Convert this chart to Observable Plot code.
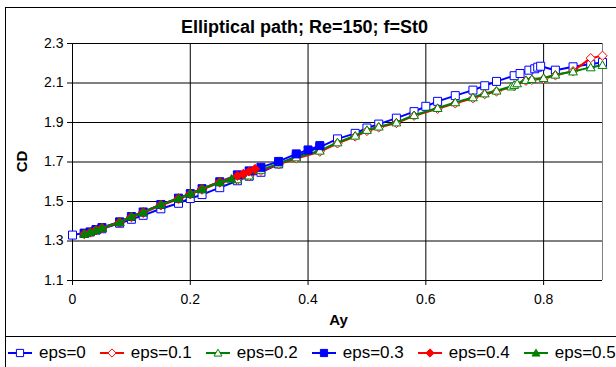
<!DOCTYPE html>
<html><head><meta charset="utf-8">
<script src="https://cdn.jsdelivr.net/npm/d3@7"></script>
<script src="https://cdn.jsdelivr.net/npm/@observablehq/plot@0.6"></script>
<style>
html,body{margin:0;padding:0;background:#fff;}
#wrap{position:relative;width:616px;height:367px;overflow:hidden;background:#fff;font-family:"Liberation Sans",Arial,sans-serif;}
#wrap svg.plot{position:absolute;left:0;top:0;}
.bl{position:absolute;background:#000;}
#legend{position:absolute;left:8px;top:337px;height:32px;display:flex;align-items:center;white-space:nowrap;font-size:17px;color:#000;}
#legend .it{display:flex;align-items:center;margin-right:14px;}
#legend .it span{margin-left:7px;}
</style></head>
<body><div id="wrap"></div>
<script>
// ---- data ----
const seriesNames = ["eps=0","eps=0.1","eps=0.2","eps=0.3","eps=0.4","eps=0.5"];
const ay0 = [0,0.02,0.04,0.05,0.08,0.10,0.12,0.15,0.18,0.20,0.22,0.25,0.28,0.30,0.32,0.35,0.38,0.42,0.45,0.48,0.50,0.52,0.55,0.58,0.60,0.62,0.65,0.68,0.70,0.72,0.75,0.76,0.775,0.785,0.79,0.795,0.82,0.85,0.88,0.90];
const cd0 = [1.330,1.340,1.355,1.362,1.390,1.410,1.430,1.463,1.491,1.515,1.535,1.570,1.605,1.628,1.648,1.690,1.728,1.775,1.817,1.845,1.872,1.892,1.922,1.955,1.982,2.007,2.036,2.064,2.086,2.108,2.137,2.148,2.165,2.172,2.180,2.185,2.165,2.182,2.196,2.204];
const ay1 = [0.02,0.03,0.04,0.05,0.08,0.10,0.12,0.15,0.18,0.20,0.22,0.25,0.28,0.30,0.32,0.35,0.38,0.42,0.45,0.48,0.50,0.52,0.55,0.58,0.62,0.65,0.68,0.70,0.72,0.75,0.77,0.78,0.80,0.82,0.85,0.88,0.90];
const cd1 = [1.335,1.343,1.354,1.364,1.392,1.420,1.442,1.480,1.512,1.536,1.560,1.596,1.610,1.628,1.655,1.688,1.718,1.752,1.794,1.829,1.857,1.875,1.897,1.934,1.969,1.997,2.023,2.043,2.057,2.085,2.111,2.116,2.121,2.139,2.160,2.226,2.238];
const ay2 = [0.02,0.03,0.04,0.05,0.08,0.10,0.12,0.15,0.18,0.20,0.22,0.25,0.28,0.30,0.32,0.35,0.38,0.42,0.45,0.48,0.50,0.52,0.55,0.58,0.62,0.65,0.68,0.70,0.72,0.745,0.75,0.755,0.77,0.78,0.80,0.82,0.85,0.88,0.90];
const cd2 = [1.337,1.345,1.356,1.366,1.395,1.423,1.445,1.483,1.515,1.538,1.562,1.598,1.612,1.631,1.660,1.692,1.723,1.757,1.799,1.833,1.862,1.879,1.900,1.937,1.973,2.002,2.027,2.047,2.061,2.082,2.090,2.098,2.115,2.120,2.125,2.142,2.158,2.179,2.191];
const ay3 = [0.02,0.03,0.04,0.05,0.08,0.10,0.12,0.15,0.18,0.20,0.22,0.25,0.28,0.30,0.32,0.35,0.38,0.40,0.42];
const cd3 = [1.338,1.346,1.358,1.368,1.397,1.424,1.447,1.485,1.517,1.540,1.565,1.600,1.635,1.655,1.673,1.703,1.741,1.761,1.783];
const ay4 = [0.02,0.03,0.04,0.05,0.08,0.10,0.12,0.15,0.18,0.20,0.22,0.25,0.28,0.29,0.30,0.31];
const cd4 = [1.336,1.344,1.356,1.366,1.396,1.423,1.446,1.484,1.516,1.539,1.564,1.600,1.630,1.640,1.652,1.665];
const ay5 = [0.02,0.03,0.04,0.05,0.08,0.10,0.12,0.15,0.18,0.20,0.22,0.25,0.27];
const cd5 = [1.336,1.344,1.356,1.366,1.395,1.424,1.445,1.484,1.516,1.540,1.563,1.598,1.615];
const xTicks = [0,0.2,0.4,0.6,0.8];
const yTicks = [1.1,1.3,1.5,1.7,1.9,2.1,2.3];
const titleText = "Elliptical path; Re=150; f=St0";
const xLabel = "Ay", yLabel = "CD";

// ---- symbols ----
const rOf = s => Math.sqrt(s/Math.PI);
const sqSym = {draw(c,s){const r=rOf(s);c.moveTo(-r,-r);c.lineTo(r,-r);c.lineTo(r,r);c.lineTo(-r,r);c.closePath();}};
const diaSym = {draw(c,s){const r=rOf(s)*1.15;c.moveTo(0,-r);c.lineTo(r,0);c.lineTo(0,r);c.lineTo(-r,0);c.closePath();}};
const triSym = {draw(c,s){const r=rOf(s);c.moveTo(0,-r*1.05);c.lineTo(r*1.1,r*0.85);c.lineTo(-r*1.1,r*0.85);c.closePath();}};

const cols = ["#0000FF","#FF0000","#008000","#0000FF","#FF0000","#008000"];
const syms = [sqSym, diaSym, triSym, sqSym, diaSym, triSym];
const filled = [false,false,false,true,true,true];
const AY = [ay0,ay1,ay2,ay3,ay4,ay5], CD = [cd0,cd1,cd2,cd3,cd4,cd5];
const series = seriesNames.map((name,k)=>({name, color:cols[k], symbol:syms[k], filled:filled[k],
  rows: AY[k].map((a,i)=>({ay:a, cd:CD[k][i]}))}));

const marks = [
  Plot.gridY({ticks: yTicks, stroke:"#000", strokeOpacity:1}),
  Plot.gridX({ticks: [0.2,0.4,0.6,0.8], stroke:"#000", strokeOpacity:1}),
  Plot.ruleX([0.9], {stroke:"#808080"}),
  Plot.ruleX([0], {stroke:"#000"}),
  Plot.axisY({ticks: yTicks, tickSize:5, tickPadding:4, fontSize:14, tickFormat: d=>d.toFixed(1), label:null}),
  Plot.axisX({ticks: xTicks, tickSize:5, tickPadding:9, fontSize:14, tickFormat: d=>String(d), label:null}),
];
for (const s of series) {
  marks.push(Plot.line(s.rows, {x:"ay", y:"cd", stroke:s.color, strokeWidth:2}));
  marks.push(Plot.dot(s.rows, {x:"ay", y:"cd", symbol:s.symbol, r:4, stroke:s.color, strokeWidth:1, fill: s.filled ? s.color : "#fff"}));
}
marks.push(Plot.text([titleText], {frameAnchor:"top-left", dx:232, dy:-11, textAnchor:"middle", lineAnchor:"bottom", fontSize:18, fontWeight:"bold", fill:"#000"}));
marks.push(Plot.text([xLabel], {frameAnchor:"top-left", dx:266, dy:281, textAnchor:"middle", lineAnchor:"bottom", fontSize:15, fontWeight:"bold", fill:"#000"}));
marks.push(Plot.text([yLabel], {frameAnchor:"top-left", dx:-46, dy:118, textAnchor:"middle", lineAnchor:"bottom", rotate:-90, fontSize:15, fontWeight:"bold", fill:"#000"}));

const chart = Plot.plot({
  width:616, height:337,
  marginLeft:72, marginRight:14, marginTop:43, marginBottom:57,
  x:{domain:[0,0.9]}, y:{domain:[1.1,2.3]},
  style:{fontFamily:'"Liberation Sans", Arial, sans-serif', background:"transparent", color:"#000", overflow:"visible"},
  marks
});
chart.classList.add("plot");
const wrap = document.getElementById("wrap");
wrap.appendChild(chart);

// outer borders
function bl(l,t,w,h){const d=document.createElement("div");d.className="bl";Object.assign(d.style,{left:l+"px",top:t+"px",width:w+"px",height:h+"px"});wrap.appendChild(d);}
bl(5,7,1,360); bl(5,7,611,1); bl(5,336,611,1);

// legend
const lg = d3.select(wrap).append("div").attr("id","legend");
for (const s of series) {
  const it = lg.append("div").attr("class","it");
  const sv = it.append("svg").attr("width",24).attr("height",12);
  sv.append("line").attr("x1",0).attr("x2",24).attr("y1",6).attr("y2",6).attr("stroke",s.color).attr("stroke-width",2);
  const p = d3.path(); s.symbol.draw(p, 3.6*3.6*Math.PI);
  sv.append("path").attr("d",p.toString()).attr("transform","translate(12,6)")
    .attr("fill", s.filled ? s.color : "#fff").attr("stroke", s.color).attr("stroke-width",1);
  it.append("span").text(s.name);
}
</script></body></html>
